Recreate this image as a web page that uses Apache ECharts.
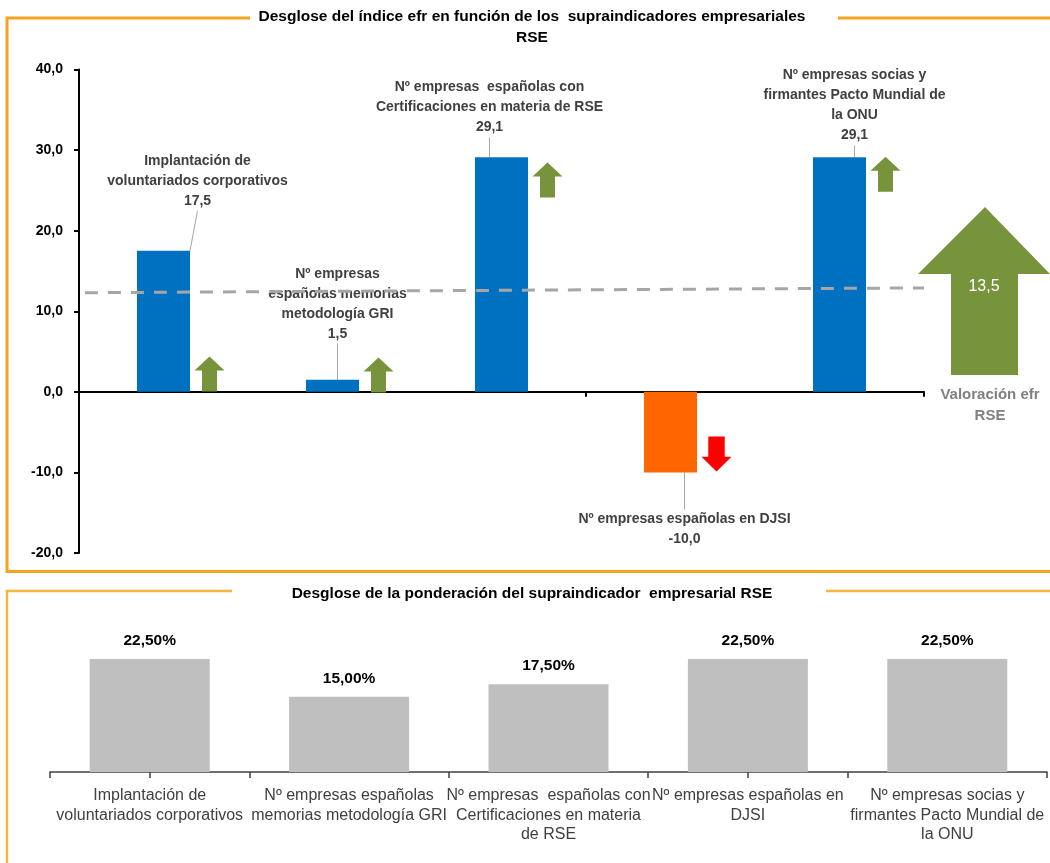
<!DOCTYPE html>
<html>
<head>
<meta charset="utf-8">
<script src="https://cdn.jsdelivr.net/npm/echarts@6/dist/echarts.min.js"></script>
<style>
html,body{margin:0;padding:0;background:#fff;}
#chart{width:1050px;height:863px;}
</style>
</head>
<body>
<div id="chart"></div>
<script>
// ---- data ----
const topTitle = 'Desglose del índice efr en función de los  supraindicadores empresariales\nRSE';
const bottomTitle = 'Desglose de la ponderación del supraindicador  empresarial RSE';
const categories = [
  'Implantación de voluntariados corporativos',
  'Nº empresas españolas memorias metodología GRI',
  'Nº empresas españolas con Certificaciones en materia de RSE',
  'Nº empresas españolas en DJSI',
  'Nº empresas socias y firmantes Pacto Mundial de la ONU'
];
const topBarLabels = [
  'Implantación de\nvoluntariados corporativos',
  'Nº empresas\nespañolas memorias\nmetodología GRI',
  'Nº empresas  españolas con\nCertificaciones en materia de RSE',
  'Nº empresas españolas en DJSI',
  'Nº empresas socias y\nfirmantes Pacto Mundial de\nla ONU'
];
const bottomAxisLabels = [
  'Implantación de\nvoluntariados corporativos',
  'Nº empresas españolas\nmemorias metodología GRI',
  'Nº empresas  españolas con\nCertificaciones en materia\nde RSE',
  'Nº empresas españolas en\nDJSI',
  'Nº empresas socias y\nfirmantes Pacto Mundial de\nla ONU'
];
const rseValues = [17.5, 1.5, 29.1, -10.0, 29.1];
const arrowDirections = ['up', 'up', 'up', 'down', 'up'];
const arrowLevels = [2.2, 2.1, 26.3, -7.7, 27.0];
const trendLine = [[0.007, 12.3], [1, 12.9]];
const efrValue = 13.5;
const efrLabel = 'Valoración efr\nRSE';
const weights = [22.5, 15.0, 17.5, 22.5, 22.5];
const yMin = -20, yMax = 40, yInterval = 10;

// ---- layout / style ----
const FONT = 'Liberation Sans, Arial, sans-serif';
const labelShift = [[34, -35], [5, -31], [-12, -15], [14, 32], [15, -7]];
const UP = 'path://M15,0 L30,14 L22.5,14 L22.5,35 L7.5,35 L7.5,14 L0,14 Z';
const DOWN = 'path://M7,0 L24,0 L24,21 L31,21 L15.5,36 L0,21 L7,21 Z';
const BIG_UP = 'path://M67,0 L132,67 L100,67 L100,168 L33,168 L33,67 L0,67 Z';
const fmt1 = v => v.toFixed(1).replace('.', ',');

const chart = echarts.init(document.getElementById('chart'));
chart.setOption({
  animation: false,
  backgroundColor: '#ffffff',
  textStyle: { fontFamily: FONT },
  title: [
    { text: topTitle, left: 527, top: 1, textAlign: 'center',
      textStyle: { fontFamily: FONT, fontSize: 15.5, fontWeight: 'bold', color: '#000', lineHeight: 21 } },
    { text: bottomTitle, left: 527, top: 579, textAlign: 'center',
      textStyle: { fontFamily: FONT, fontSize: 15.5, fontWeight: 'bold', color: '#000', lineHeight: 20 } },
    { text: efrLabel, left: 985, top: 379, textAlign: 'center',
      textStyle: { fontFamily: FONT, fontSize: 15, fontWeight: 'bold', color: '#808080', lineHeight: 21 } }
  ],
  graphic: [
    { type: 'polyline', shape: { points: [[250, 18], [7, 18], [7, 571.5], [1050, 571.5]] },
      style: { stroke: '#F5A21E', lineWidth: 3, fill: null }, z: 0 },
    { type: 'polyline', shape: { points: [[838, 18], [1050, 18]] },
      style: { stroke: '#F5A21E', lineWidth: 3, fill: null }, z: 0 },
    { type: 'polyline', shape: { points: [[232, 591], [7, 591], [7, 863]] },
      style: { stroke: '#F3B640', lineWidth: 2.5, fill: null }, z: 0 },
    { type: 'polyline', shape: { points: [[826, 591], [1050, 591]] },
      style: { stroke: '#F3B640', lineWidth: 2.5, fill: null }, z: 0 }
  ],
  grid: [
    { left: 79, top: 69.5, width: 845, height: 483.5 },
    { left: 50, top: 646.5, width: 997, height: 125.5 },
    { left: 918, top: 207, width: 132, height: 168 }
  ],
  xAxis: [
    { type: 'category', gridIndex: 0, data: categories,
      axisLine: { lineStyle: { color: '#000', width: 2 } },
      axisTick: { show: true, length: 5, lineStyle: { color: '#000', width: 2 } },
      axisLabel: { show: false }, splitLine: { show: false } },
    { type: 'value', gridIndex: 0, min: 0, max: 1, show: false },
    { type: 'category', gridIndex: 1, data: categories,
      axisLine: { lineStyle: { color: '#404040', width: 1.5 } },
      axisTick: { show: true, length: 6, lineStyle: { color: '#404040', width: 1.5 } },
      axisLabel: { interval: 0, margin: 14, fontFamily: FONT, fontSize: 16, color: '#404040', lineHeight: 19.5,
        formatter: (v, i) => bottomAxisLabels[i] } },
    { type: 'category', gridIndex: 1, data: categories, position: 'bottom',
      axisLine: { show: false },
      axisTick: { show: true, alignWithLabel: true, length: 6, lineStyle: { color: '#404040', width: 1.5 } },
      axisLabel: { show: false } },
    { type: 'value', gridIndex: 2, min: 0, max: 1, show: false }
  ],
  yAxis: [
    { type: 'value', gridIndex: 0, min: yMin, max: yMax, interval: yInterval,
      axisLine: { show: true, onZero: false, lineStyle: { color: '#000', width: 2 } },
      axisTick: { show: true, length: 5, lineStyle: { color: '#000', width: 2 } },
      axisLabel: { formatter: fmt1, margin: 16, fontFamily: FONT, fontSize: 14, fontWeight: 'bold', color: '#000' },
      splitLine: { show: false } },
    { type: 'value', gridIndex: 1, min: 0, max: 25, show: false },
    { type: 'value', gridIndex: 2, min: 0, max: 1, show: false }
  ],
  series: [
    { type: 'bar', xAxisIndex: 0, yAxisIndex: 0, barWidth: 53,
      data: rseValues.map(v => ({
        value: v,
        itemStyle: { color: v >= 0 ? '#0070C0' : '#FF6600' },
        label: { position: v >= 0 ? 'top' : 'bottom' }
      })),
      label: { show: true, distance: 5, fontFamily: FONT, fontSize: 14, fontWeight: 'bold', color: '#404040',
        lineHeight: 20, align: 'center',
        formatter: p => topBarLabels[p.dataIndex] + '\n' + fmt1(p.value) },
      labelLine: { show: true, lineStyle: { color: '#A6A6A6', width: 1 } },
      labelLayout: p => ({ dx: labelShift[p.dataIndex][0], dy: labelShift[p.dataIndex][1] }),
      z: 2 },
    { type: 'scatter', xAxisIndex: 0, yAxisIndex: 0,
      data: arrowLevels.map((v, i) => ({
        value: [i, v],
        symbol: arrowDirections[i] === 'up' ? UP : DOWN,
        itemStyle: { color: arrowDirections[i] === 'up' ? '#77933C' : '#FF0000', opacity: 1 }
      })),
      symbolSize: [30, 35], symbolOffset: [46, 0], z: 3, silent: true },
    { type: 'line', xAxisIndex: 1, yAxisIndex: 0, data: trendLine, symbol: 'none',
      lineStyle: { color: '#A6A6A6', width: 3, type: [13, 10] }, z: 4, silent: true },
    { type: 'bar', xAxisIndex: 2, yAxisIndex: 1, barWidth: 120, data: weights,
      itemStyle: { color: '#BFBFBF' },
      label: { show: true, position: 'top', distance: 10, fontFamily: FONT, fontSize: 15.5, fontWeight: 'bold', color: '#000',
        formatter: p => p.value.toFixed(2).replace('.', ',') + '%' } },
    { type: 'scatter', xAxisIndex: 4, yAxisIndex: 2, data: [[0.5, 0.5, efrValue]],
      symbol: BIG_UP, symbolSize: [132, 168], itemStyle: { color: '#77933C', opacity: 1 },
      label: { show: true, position: 'inside', offset: [0, -4], fontFamily: FONT, fontSize: 16, color: '#fff',
        formatter: p => fmt1(p.value[2]) },
      silent: true }
  ]
});
</script>
</body>
</html>
